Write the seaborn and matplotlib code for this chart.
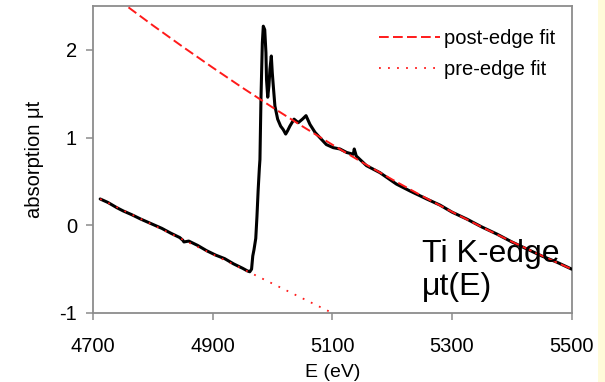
import matplotlib
matplotlib.use("Agg")
import matplotlib.pyplot as plt
from matplotlib.patches import Rectangle
import pandas as pd
import seaborn as sns

# Measured Ti K-edge absorption spectrum
energy = [4712, 4725, 4740, 4750, 4765, 4780, 4800, 4815, 4830, 4845, 4850, 4852,
          4860, 4875, 4890, 4905, 4920, 4935, 4950, 4958, 4962, 4965, 4967, 4969,
          4972, 4974, 4976, 4978, 4979, 4980.7, 4983, 4984.6, 4987, 4989, 4990, 4992,
          4994, 4995.7, 4998, 4999.6, 5001.3, 5004, 5008.6, 5013.6, 5018, 5022, 5025,
          5029, 5036, 5043, 5050, 5056, 5062.6, 5071, 5079, 5090, 5101.5, 5112.7,
          5124, 5135, 5136.6, 5140, 5157, 5179.5, 5207, 5230, 5257.6, 5280, 5300,
          5325, 5350, 5375, 5400, 5425, 5450, 5475, 5500]
mu_t = [0.30, 0.26, 0.20, 0.165, 0.12, 0.07, 0.01, -0.035, -0.09, -0.14, -0.17, -0.19,
        -0.18, -0.23, -0.29, -0.34, -0.38, -0.44, -0.49, -0.52, -0.53, -0.50, -0.35, -0.28,
        -0.15, 0.10, 0.40, 0.65, 0.75, 1.44, 2.08, 2.27, 2.23, 1.97, 1.66, 1.46,
        1.59, 1.78, 1.93, 1.74, 1.59, 1.36, 1.21, 1.13, 1.09, 1.04, 1.075,
        1.13, 1.21, 1.17, 1.21, 1.25, 1.15, 1.06, 1.00, 0.92, 0.885, 0.87,
        0.83, 0.81, 0.87, 0.79, 0.68, 0.60, 0.47, 0.39, 0.30, 0.23, 0.15,
        0.07, -0.02, -0.10, -0.19, -0.27, -0.35, -0.42, -0.50]

# Post-edge fit (smooth curve)
post_energy = [4700, 4750, 4800, 4850, 4900, 4950, 5000, 5050, 5100, 5150, 5200,
               5250, 5300, 5350, 5400, 5450, 5500]
post_fit = [2.789, 2.531, 2.279, 2.035, 1.798, 1.567, 1.344, 1.128, 0.919, 0.717,
            0.522, 0.334, 0.153, -0.021, -0.187, -0.347, -0.500]

# Pre-edge fit (straight line)
pre_energy = [4712, 4800, 4900, 5000, 5100]
pre_fit = [0.30, 0.005, -0.33, -0.665, -1.00]

x_ticks = [4700, 4900, 5100, 5300, 5500]
y_ticks = [-1, 0, 1, 2]

sns.set_theme(style="white")
plt.rcParams["font.family"] = ["Liberation Sans", "DejaVu Sans"]
plt.rcParams["text.color"] = "black"
plt.rcParams["axes.labelcolor"] = "black"

spectrum = pd.DataFrame({"E": energy, "mu": mu_t})
post = pd.DataFrame({"E": post_energy, "mu": post_fit})
pre = pd.DataFrame({"E": pre_energy, "mu": pre_fit})

fig = plt.figure(figsize=(6.05, 3.82), dpi=100)
fig.patch.set_facecolor("white")
fig.add_artist(Rectangle((598 / 605, 0), 7 / 605, 1, transform=fig.transFigure,
                         facecolor="#fffbd9", edgecolor="none"))
ax = fig.add_axes([93 / 605, 1 - 313 / 382, (571.7 - 93) / 605, (313 - 6) / 382])

sns.lineplot(data=post, x="E", y="mu", ax=ax, color="#ff1a1a", lw=1.4,
             label="post-edge fit")
ax.lines[-1].set_dashes((5, 2.2))
sns.lineplot(data=pre, x="E", y="mu", ax=ax, color="#ff1a1a", lw=1.3,
             label="pre-edge fit")
ax.lines[-1].set_dashes((1, 4))
sns.lineplot(data=spectrum, x="E", y="mu", ax=ax, color="black", lw=2.2,
             sort=False, legend=False)
# keep the fits visible on top of the measured trace where they overlap
ax.lines[0].set_zorder(4)
ax.lines[1].set_zorder(4)
ax.lines[2].set_zorder(3)

ax.set_xlim(4700, 5500)
ax.set_ylim(-1, 2.5)
ax.set_xticks(x_ticks)
ax.set_yticks(y_ticks)
ax.set_xticklabels([str(t) for t in x_ticks])
ax.set_yticklabels([str(t) for t in y_ticks])
ax.tick_params(axis="x", direction="out", length=5, width=1.1, color="#8c8c8c",
               labelsize=14.5, labelcolor="black", pad=12, bottom=True)
ax.tick_params(axis="y", direction="out", length=5, width=1.1, color="#8c8c8c",
               labelsize=14.5, labelcolor="black", pad=6.5, left=True)
for sp in ax.spines.values():
    sp.set_color("#8c8c8c")
    sp.set_linewidth(1.3)

ax.set_xlabel("E (eV)", fontsize=14, labelpad=6)
ax.set_ylabel("absorption μt", fontsize=14.5, labelpad=11)

ax.legend(loc="upper right", frameon=False, fontsize=14.5, handlelength=3.0,
          handletextpad=0.2, labelspacing=0.6, borderaxespad=0.0,
          bbox_to_anchor=(0.982, 0.952))

ax.text(0.688, 0.166, "Ti K-edge", transform=ax.transAxes, fontsize=23,
        ha="left", va="baseline", zorder=6)
ax.text(0.688, 0.058, "μt(E)", transform=ax.transAxes, fontsize=23,
        ha="left", va="baseline", zorder=6)

fig.savefig("out.png", dpi=100)
